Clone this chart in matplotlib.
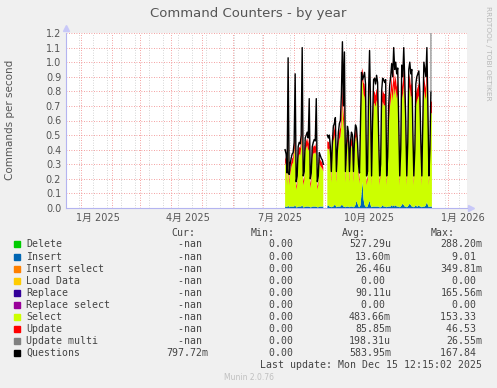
import numpy as np
import matplotlib
matplotlib.use("Agg")
import matplotlib.pyplot as plt

nan = np.nan

# days counted from 1 Jan 2025, one value per day
days = np.arange(203, 350)

questions = [
    0.40, 0.37, 0.24, 1.03, 0.23, 0.30, 0.34,
    0.37, 0.38, 0.45, 0.92, 0.18, 0.22, 0.42,
    0.45, 0.44, 0.50, 1.10, 0.22, 0.25, 0.48,
    0.50, 0.52, 0.48, 0.75, 0.20, 0.24, 0.42,
    0.45, 0.47, 0.46, 0.75, 0.18, 0.22, 0.38,
    0.36, 0.34, 0.33, 0.30, nan, nan, nan,
    0.50, 0.48, 0.50, 0.42, 0.25, 0.45, 0.56,
    0.58, 0.62, 0.25, 0.40, 0.52, 0.58, 0.60,
    0.78, 1.14, 0.70, 1.07, 0.25, 0.40, 0.56,
    0.52, 0.25, 0.45, 0.52, 0.50, 0.25, 0.48,
    0.57, 0.55, 0.45, 0.30, 0.24, 0.60, 0.93,
    0.88, 0.90, 0.93, 0.85, 0.22, 0.25, 0.80,
    1.08, 0.70, 0.22, 0.60, 0.88, 0.89, 0.85,
    0.91, 0.86, 0.50, 0.22, 0.30, 0.80, 0.89,
    0.88, 0.86, 0.88, 0.22, 0.35, 0.70, 0.84,
    0.90, 0.99, 0.90, 1.10, 0.95, 1.00, 0.92,
    0.96, 0.60, 0.22, 0.40, 0.98, 0.90, 1.10,
    0.88, 0.60, 0.22, 0.45, 0.95, 1.00, 0.92,
    0.95, 0.55, 0.22, 0.40, 0.85, 0.90, 0.92,
    0.94, 0.80, 0.45, 0.22, 0.60, 1.00, 0.95,
    0.90, 1.10, 0.70, 0.22, 0.40, 0.80, 167.84,
]

select = [
    0.30, 0.28, 0.15, 0.40, 0.15, 0.22, 0.26,
    0.29, 0.30, 0.36, 0.42, 0.12, 0.15, 0.33,
    0.36, 0.35, 0.40, 0.48, 0.15, 0.18, 0.38,
    0.40, 0.42, 0.38, 0.40, 0.13, 0.17, 0.33,
    0.36, 0.37, 0.36, 0.38, 0.12, 0.15, 0.30,
    0.28, 0.27, 0.26, 0.24, nan, nan, nan,
    0.40, 0.38, 0.40, 0.33, 0.17, 0.36, 0.45,
    0.46, 0.50, 0.17, 0.32, 0.42, 0.46, 0.48,
    0.55, 0.70, 0.52, 0.66, 0.17, 0.32, 0.45,
    0.42, 0.17, 0.36, 0.42, 0.40, 0.17, 0.38,
    0.46, 0.44, 0.36, 0.23, 0.16, 0.48, 0.74,
    0.70, 0.72, 0.74, 0.68, 0.15, 0.18, 0.64,
    0.80, 0.56, 0.15, 0.48, 0.70, 0.71, 0.68,
    0.73, 0.69, 0.40, 0.15, 0.23, 0.64, 0.71,
    0.70, 0.69, 0.70, 0.15, 0.27, 0.56, 0.67,
    0.72, 0.79, 0.72, 0.82, 0.76, 0.80, 0.74,
    0.77, 0.48, 0.15, 0.32, 0.78, 0.72, 0.82,
    0.70, 0.48, 0.15, 0.36, 0.76, 0.80, 0.74,
    0.76, 0.44, 0.15, 0.32, 0.68, 0.72, 0.74,
    0.75, 0.64, 0.36, 0.15, 0.48, 0.80, 0.76,
    0.72, 0.84, 0.56, 0.15, 0.32, 0.64, 0.64,
]

update = [
    0.04, 0.04, 0.03, 0.06, 0.03, 0.03, 0.04,
    0.04, 0.04, 0.05, 0.08, 0.02, 0.03, 0.05,
    0.05, 0.05, 0.05, 0.10, 0.03, 0.03, 0.05,
    0.05, 0.05, 0.05, 0.08, 0.03, 0.03, 0.05,
    0.05, 0.05, 0.05, 0.07, 0.02, 0.03, 0.04,
    0.04, 0.04, 0.04, 0.03, nan, nan, nan,
    0.05, 0.05, 0.05, 0.05, 0.03, 0.05, 0.06,
    0.06, 0.07, 0.03, 0.04, 0.05, 0.06, 0.06,
    0.08, 0.12, 0.08, 0.12, 0.03, 0.04, 0.06,
    0.05, 0.03, 0.05, 0.05, 0.05, 0.03, 0.05,
    0.06, 0.06, 0.05, 0.03, 0.03, 0.06, 0.09,
    0.08, 0.08, 0.09, 0.08, 0.03, 0.03, 0.08,
    0.12, 0.07, 0.03, 0.06, 0.08, 0.08, 0.08,
    0.08, 0.08, 0.05, 0.03, 0.03, 0.08, 0.08,
    0.08, 0.08, 0.08, 0.03, 0.04, 0.07, 0.08,
    0.08, 0.09, 0.08, 0.12, 0.09, 0.09, 0.08,
    0.09, 0.06, 0.03, 0.04, 0.09, 0.08, 0.12,
    0.08, 0.06, 0.03, 0.05, 0.09, 0.09, 0.08,
    0.09, 0.06, 0.03, 0.04, 0.08, 0.08, 0.08,
    0.09, 0.08, 0.05, 0.03, 0.06, 0.09, 0.09,
    0.08, 0.12, 0.07, 0.03, 0.04, 0.08, 0.08,
]

insert = [
    0.01, 0.01, 0.005, 0.02, 0.005, 0.01, 0.01,
    0.01, 0.01, 0.01, 0.02, 0.005, 0.005, 0.01,
    0.01, 0.01, 0.01, 0.02, 0.005, 0.005, 0.01,
    0.01, 0.01, 0.01, 0.01, 0.005, 0.005, 0.01,
    0.01, 0.01, 0.01, 0.01, 0.005, 0.005, 0.01,
    0.01, 0.01, 0.01, 0.01, nan, nan, nan,
    0.01, 0.02, 0.01, 0.01, 0.005, 0.01, 0.01,
    0.02, 0.02, 0.005, 0.01, 0.01, 0.01, 0.01,
    0.02, 0.02, 0.01, 0.01, 0.005, 0.01, 0.01,
    0.01, 0.005, 0.01, 0.01, 0.01, 0.005, 0.01,
    0.02, 0.05, 0.03, 0.01, 0.005, 0.02, 0.10,
    0.18, 0.06, 0.02, 0.01, 0.005, 0.01, 0.03,
    0.05, 0.02, 0.005, 0.01, 0.01, 0.01, 0.01,
    0.01, 0.01, 0.01, 0.005, 0.005, 0.01, 0.02,
    0.01, 0.01, 0.01, 0.005, 0.01, 0.01, 0.01,
    0.01, 0.02, 0.01, 0.02, 0.01, 0.02, 0.01,
    0.01, 0.01, 0.005, 0.01, 0.02, 0.03, 0.02,
    0.01, 0.01, 0.005, 0.01, 0.02, 0.03, 0.02,
    0.01, 0.01, 0.005, 0.01, 0.02, 0.01, 0.01,
    0.02, 0.01, 0.01, 0.005, 0.01, 0.01, 0.01,
    0.02, 0.04, 0.02, 0.005, 0.01, 0.01, 0.01,
]

tick_days = [17, 106, 198, 286, 380]
tick_labels = ['1月 2025', '4月 2025', '7月 2025', '10月 2025', '1月 2026']
month_starts = [0, 31, 59, 90, 120, 151, 181, 212, 243, 273, 304, 334, 365]

names = ['Delete', 'Insert', 'Insert select', 'Load Data', 'Replace',
         'Replace select', 'Select', 'Update', 'Update multi', 'Questions']
colors = ['#00CC00', '#0066B3', '#FF8000', '#FFCC00', '#330099',
          '#990099', '#CCFF00', '#FF0000', '#808080', '#000000']
cur = ['-nan '] * 9 + ['797.72m']
mins = ['0.00 '] * 10
avgs = ['527.29u', '13.60m', '26.46u', '0.00 ', '90.11u',
        '0.00 ', '483.66m', '85.85m', '198.31u', '583.95m']
maxs = ['288.20m', '9.01 ', '349.81m', '0.00 ', '165.56m',
        '0.00 ', '153.33 ', '46.53 ', '26.55m', '167.84 ']

W, H = 497, 388
fig = plt.figure(figsize=(W / 100, H / 100), dpi=100)
fig.patch.set_facecolor('#F0F0F0')


def fx(px):
    return px / W


def fy(py):
    return 1 - py / H


ax = fig.add_axes([fx(66), fy(208), fx(467) - fx(66), fy(33) - fy(208)])
ax.set_facecolor('white')
ax.set_xlim(-14.9, 383.9)
ax.set_ylim(0, 1.2)

# grid like rrdtool
for d in np.arange(-2, 384, 14):
    ax.axvline(d, color='#C8C8C8', lw=0.6, ls=(0, (1, 2)), zorder=0)
for d in month_starts:
    ax.axvline(d, color='#F08080', lw=0.6, ls=(0, (1, 2)), zorder=0.5)
for v in np.arange(0.1, 1.25, 0.1):
    ax.axhline(v, color='#F08080', lw=0.6, ls=(0, (1, 2)), zorder=0.5)

ins = np.array(insert)
sel = np.array(select)
upd = np.array(update)
q = np.array(questions)
ax.fill_between(days, 0, ins, color=colors[1], lw=0, zorder=2)
ax.fill_between(days, ins, ins + sel, color=colors[6], lw=0, zorder=2)
ax.fill_between(days, ins + sel, ins + sel + upd, color=colors[7], lw=0, zorder=2)
ax.plot(days[:-1], q[:-1], color='black', lw=1.0, zorder=3)
ax.plot(days[-2:], q[-2:], color='#909090', lw=0.9, zorder=3)

for s in ['top', 'right']:
    ax.spines[s].set_visible(False)
for s in ['left', 'bottom']:
    ax.spines[s].set_color('#B4B4F0')
    ax.spines[s].set_linewidth(0.8)
ax.plot([0], [1.03], marker='^', ms=4, color='#C8C8F8', transform=ax.transAxes, clip_on=False)
ax.plot([1.01], [0], marker='>', ms=4, color='#C8C8F8', transform=ax.transAxes, clip_on=False)

ax.set_yticks(np.round(np.arange(0, 1.25, 0.1), 1))
ax.set_yticklabels([f'{v:.1f}' for v in np.arange(0, 1.25, 0.1)])
ax.set_xticks(tick_days)
ax.set_xticklabels(tick_labels, family=['DejaVu Sans', 'Noto Sans CJK JP'])
ax.tick_params(length=0, labelsize=7, colors='#555555', pad=3.5)

fig.text(0.5, fy(13), 'Command Counters - by year', ha='center', va='center',
         fontsize=9.5, color='#555555')
fig.text(fx(10), fy(120), 'Commands per second', rotation=90, ha='center',
         va='center', fontsize=7.5, color='#555555')
fig.text(fx(488), fy(6), 'RRDTOOL / TOBI OETIKER', rotation=270, ha='center',
         va='top', fontsize=5.3, color='#B8B8B8')

# legend table
mono = dict(family='DejaVu Sans Mono', fontsize=7.1, color='#444444', va='center')
for label, px in zip(['Cur:', 'Min:', 'Avg:', 'Max:'], [195, 275, 366, 455]):
    fig.text(fx(px), fy(233), label, ha='right', **mono)
row_y = [244.3, 256.5, 268.6, 280.7, 292.7, 304.7, 316.7, 328.5, 340.7, 352.7]
for i, name in enumerate(names):
    y = row_y[i]
    fig.patches.append(plt.Rectangle((fx(14), fy(y + 3)), fx(6), 6 / H,
                                     color=colors[i], transform=fig.transFigure))
    fig.text(fx(26), fy(y), name, ha='left', **mono)
    fig.text(fx(208), fy(y), cur[i], ha='right', **mono)
    fig.text(fx(299), fy(y), mins[i], ha='right', **mono)
    fig.text(fx(391), fy(y), avgs[i], ha='right', **mono)
    fig.text(fx(482.5), fy(y), maxs[i], ha='right', **mono)
fig.text(fx(482.5), fy(364.5), 'Last update: Mon Dec 15 12:15:02 2025', ha='right', **mono)
fig.text(fx(249), fy(377.5), 'Munin 2.0.76', ha='center', va='center',
         fontsize=5.5, color='#C0C0C0')

fig.savefig('out.png', dpi=100, facecolor=fig.get_facecolor())
